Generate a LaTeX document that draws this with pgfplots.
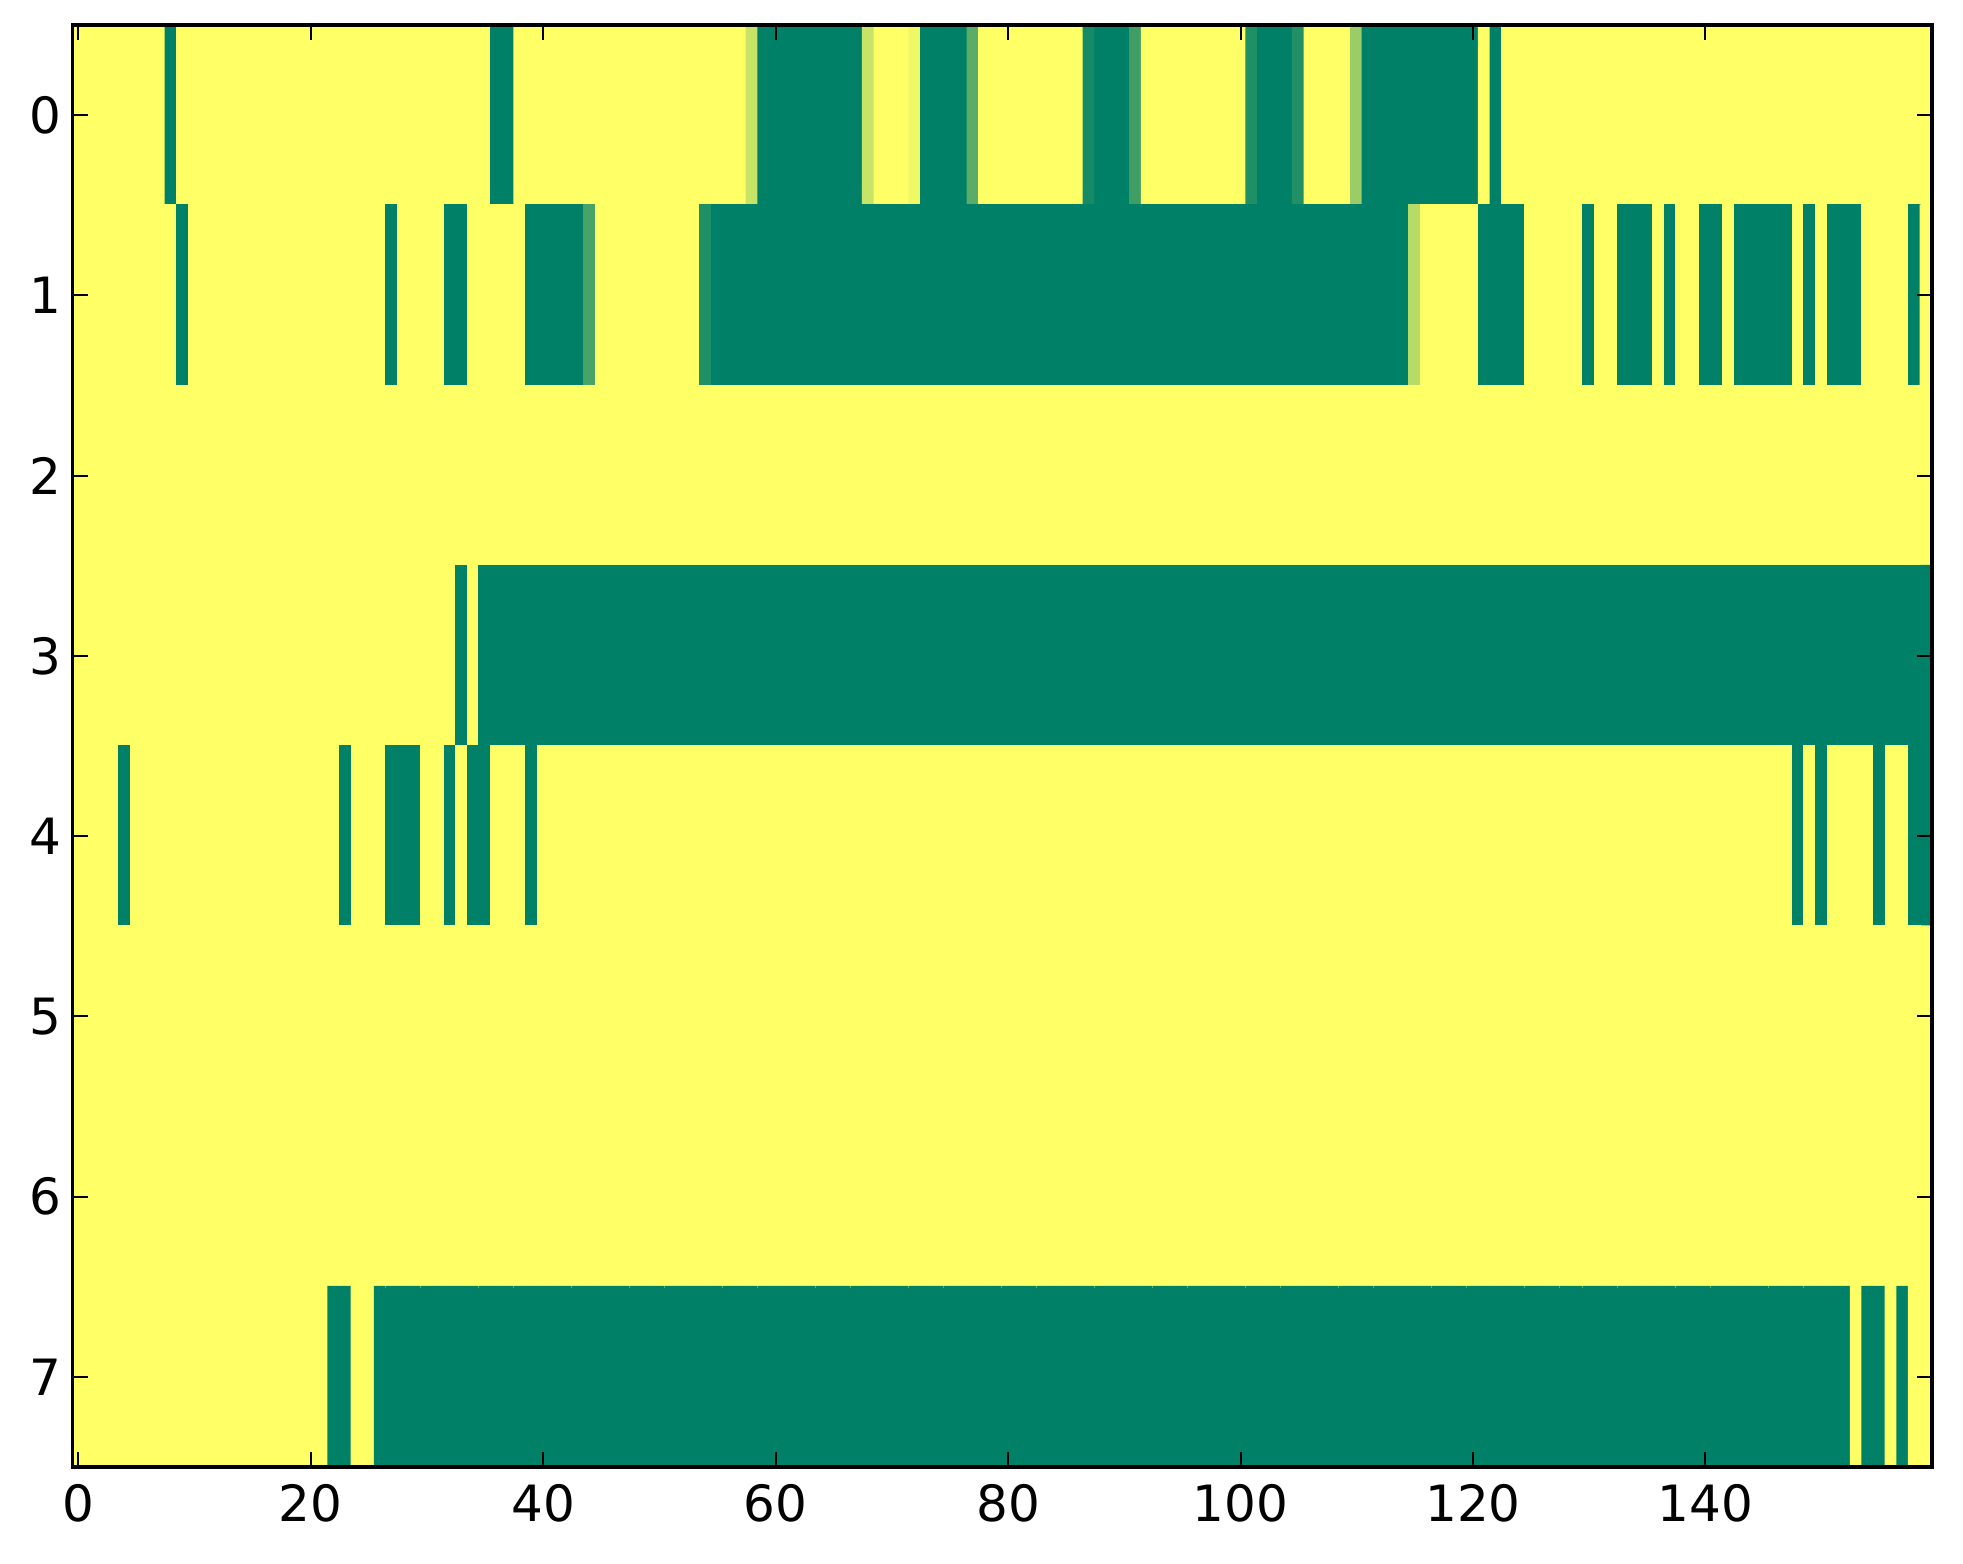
\documentclass[border=0pt]{standalone}
\usepackage{pgfplots}
\pgfplotsset{compat=1.18}
\usepackage{fontspec}
\setmainfont{DejaVu Sans}
\begin{document}
\begin{tikzpicture}
\begin{axis}[
  scale only axis,
  width=371.9pt, height=288.4pt,
  xmin=-0.5, xmax=159.5, ymin=-0.5, ymax=7.5,
  y dir=reverse,
  enlargelimits=false,
  axis on top,
  xtick={0,20,...,140}, ytick={0,1,...,7},
  tick align=inside, xtick pos=both, ytick pos=both,
  major tick length=3pt,
  tick style={black, line width=0.4pt},
  axis line style={black, line width=0.7pt},
  /pgf/number format/assume math mode=true,
  tick label style={font=\fontsize{10}{12}\selectfont},
  yticklabel style={xshift=1.2pt},
  colormap={summer}{rgb=(0,0.5,0.4) rgb=(1,1,0.4)},
  point meta min=0, point meta max=1,
]
\addplot[matrix plot*, mesh/cols=160, mesh/rows=8, point meta=explicit, draw=mapped color, line width=0.35pt]
table[row sep=\\, header=false, x expr={mod(\coordindex,160)}, y expr={floor(\coordindex/160)}, meta index=0] {
% row 0
1\\1\\1\\1\\1\\1\\1\\1\\0\\1\\ 1\\1\\1\\1\\1\\1\\1\\1\\1\\1\\
1\\1\\1\\1\\1\\1\\1\\1\\1\\1\\ 1\\1\\1\\1\\1\\1\\0\\0\\1\\1\\
1\\1\\1\\1\\1\\1\\1\\1\\1\\1\\ 1\\1\\1\\1\\1\\1\\1\\1\\0.78\\0\\
0\\0\\0\\0\\0\\0\\0\\0\\0.78\\1\\ 1\\1\\0.94\\0\\0\\0\\0\\0.35\\1\\1\\
1\\1\\1\\1\\1\\1\\1\\0.08\\0\\0\\ 0\\0.24\\1\\1\\1\\1\\1\\1\\1\\1\\
1\\0.12\\0\\0\\0\\0.13\\1\\1\\1\\1\\ 0.6\\0\\0\\0\\0\\0\\0\\0\\0\\0\\
0\\1\\0\\1\\1\\1\\1\\1\\1\\1\\ 1\\1\\1\\1\\1\\1\\1\\1\\1\\1\\
1\\1\\1\\1\\1\\1\\1\\1\\1\\1\\ 1\\1\\1\\1\\1\\1\\1\\1\\1\\1\\
% row 1
1\\1\\1\\1\\1\\1\\1\\1\\1\\0\\ 1\\1\\1\\1\\1\\1\\1\\1\\1\\1\\
1\\1\\1\\1\\1\\1\\1\\0\\1\\1\\ 1\\1\\0\\0\\1\\1\\1\\1\\1\\0\\
0\\0\\0\\0\\0.28\\1\\1\\1\\1\\1\\ 1\\1\\1\\1\\0.12\\0\\0\\0\\0\\0\\
0\\0\\0\\0\\0\\0\\0\\0\\0\\0\\ 0\\0\\0\\0\\0\\0\\0\\0\\0\\0\\
0\\0\\0\\0\\0\\0\\0\\0\\0\\0\\ 0\\0\\0\\0\\0\\0\\0\\0\\0\\0\\
0\\0\\0\\0\\0\\0\\0\\0\\0\\0\\ 0\\0\\0\\0\\0\\0.71\\1\\1\\1\\1\\
1\\0\\0\\0\\0\\1\\1\\1\\1\\1\\ 0\\1\\1\\0\\0\\0\\1\\0\\1\\1\\
0\\0\\1\\0\\0\\0\\0\\0\\1\\0\\ 1\\0\\0\\0\\1\\1\\1\\1\\0\\1\\
% row 2
1\\1\\1\\1\\1\\1\\1\\1\\1\\1\\ 1\\1\\1\\1\\1\\1\\1\\1\\1\\1\\
1\\1\\1\\1\\1\\1\\1\\1\\1\\1\\ 1\\1\\1\\1\\1\\1\\1\\1\\1\\1\\
1\\1\\1\\1\\1\\1\\1\\1\\1\\1\\ 1\\1\\1\\1\\1\\1\\1\\1\\1\\1\\
1\\1\\1\\1\\1\\1\\1\\1\\1\\1\\ 1\\1\\1\\1\\1\\1\\1\\1\\1\\1\\
1\\1\\1\\1\\1\\1\\1\\1\\1\\1\\ 1\\1\\1\\1\\1\\1\\1\\1\\1\\1\\
1\\1\\1\\1\\1\\1\\1\\1\\1\\1\\ 1\\1\\1\\1\\1\\1\\1\\1\\1\\1\\
1\\1\\1\\1\\1\\1\\1\\1\\1\\1\\ 1\\1\\1\\1\\1\\1\\1\\1\\1\\1\\
1\\1\\1\\1\\1\\1\\1\\1\\1\\1\\ 1\\1\\1\\1\\1\\1\\1\\1\\1\\1\\
% row 3
1\\1\\1\\1\\1\\1\\1\\1\\1\\1\\ 1\\1\\1\\1\\1\\1\\1\\1\\1\\1\\
1\\1\\1\\1\\1\\1\\1\\1\\1\\1\\ 1\\1\\1\\0\\1\\0\\0\\0\\0\\0\\
0\\0\\0\\0\\0\\0\\0\\0\\0\\0\\ 0\\0\\0\\0\\0\\0\\0\\0\\0\\0\\
0\\0\\0\\0\\0\\0\\0\\0\\0\\0\\ 0\\0\\0\\0\\0\\0\\0\\0\\0\\0\\
0\\0\\0\\0\\0\\0\\0\\0\\0\\0\\ 0\\0\\0\\0\\0\\0\\0\\0\\0\\0\\
0\\0\\0\\0\\0\\0\\0\\0\\0\\0\\ 0\\0\\0\\0\\0\\0\\0\\0\\0\\0\\
0\\0\\0\\0\\0\\0\\0\\0\\0\\0\\ 0\\0\\0\\0\\0\\0\\0\\0\\0\\0\\
0\\0\\0\\0\\0\\0\\0\\0\\0\\0\\ 0\\0\\0\\0\\0\\0\\0\\0\\0\\0\\
% row 4
1\\1\\1\\1\\0\\1\\1\\1\\1\\1\\ 1\\1\\1\\1\\1\\1\\1\\1\\1\\1\\
1\\1\\1\\0\\1\\1\\1\\0\\0\\0\\ 1\\1\\0\\1\\0\\0\\1\\1\\1\\0\\
1\\1\\1\\1\\1\\1\\1\\1\\1\\1\\ 1\\1\\1\\1\\1\\1\\1\\1\\1\\1\\
1\\1\\1\\1\\1\\1\\1\\1\\1\\1\\ 1\\1\\1\\1\\1\\1\\1\\1\\1\\1\\
1\\1\\1\\1\\1\\1\\1\\1\\1\\1\\ 1\\1\\1\\1\\1\\1\\1\\1\\1\\1\\
1\\1\\1\\1\\1\\1\\1\\1\\1\\1\\ 1\\1\\1\\1\\1\\1\\1\\1\\1\\1\\
1\\1\\1\\1\\1\\1\\1\\1\\1\\1\\ 1\\1\\1\\1\\1\\1\\1\\1\\1\\1\\
1\\1\\1\\1\\1\\1\\1\\1\\0\\1\\ 0\\1\\1\\1\\1\\0\\1\\1\\0\\0\\
% row 5
1\\1\\1\\1\\1\\1\\1\\1\\1\\1\\ 1\\1\\1\\1\\1\\1\\1\\1\\1\\1\\
1\\1\\1\\1\\1\\1\\1\\1\\1\\1\\ 1\\1\\1\\1\\1\\1\\1\\1\\1\\1\\
1\\1\\1\\1\\1\\1\\1\\1\\1\\1\\ 1\\1\\1\\1\\1\\1\\1\\1\\1\\1\\
1\\1\\1\\1\\1\\1\\1\\1\\1\\1\\ 1\\1\\1\\1\\1\\1\\1\\1\\1\\1\\
1\\1\\1\\1\\1\\1\\1\\1\\1\\1\\ 1\\1\\1\\1\\1\\1\\1\\1\\1\\1\\
1\\1\\1\\1\\1\\1\\1\\1\\1\\1\\ 1\\1\\1\\1\\1\\1\\1\\1\\1\\1\\
1\\1\\1\\1\\1\\1\\1\\1\\1\\1\\ 1\\1\\1\\1\\1\\1\\1\\1\\1\\1\\
1\\1\\1\\1\\1\\1\\1\\1\\1\\1\\ 1\\1\\1\\1\\1\\1\\1\\1\\1\\1\\
% row 6
1\\1\\1\\1\\1\\1\\1\\1\\1\\1\\ 1\\1\\1\\1\\1\\1\\1\\1\\1\\1\\
1\\1\\1\\1\\1\\1\\1\\1\\1\\1\\ 1\\1\\1\\1\\1\\1\\1\\1\\1\\1\\
1\\1\\1\\1\\1\\1\\1\\1\\1\\1\\ 1\\1\\1\\1\\1\\1\\1\\1\\1\\1\\
1\\1\\1\\1\\1\\1\\1\\1\\1\\1\\ 1\\1\\1\\1\\1\\1\\1\\1\\1\\1\\
1\\1\\1\\1\\1\\1\\1\\1\\1\\1\\ 1\\1\\1\\1\\1\\1\\1\\1\\1\\1\\
1\\1\\1\\1\\1\\1\\1\\1\\1\\1\\ 1\\1\\1\\1\\1\\1\\1\\1\\1\\1\\
1\\1\\1\\1\\1\\1\\1\\1\\1\\1\\ 1\\1\\1\\1\\1\\1\\1\\1\\1\\1\\
1\\1\\1\\1\\1\\1\\1\\1\\1\\1\\ 1\\1\\1\\1\\1\\1\\1\\1\\1\\1\\
% row 7
1\\1\\1\\1\\1\\1\\1\\1\\1\\1\\ 1\\1\\1\\1\\1\\1\\1\\1\\1\\1\\
1\\1\\0\\0\\1\\1\\0\\0\\0\\0\\ 0\\0\\0\\0\\0\\0\\0\\0\\0\\0\\
0\\0\\0\\0\\0\\0\\0\\0\\0\\0\\ 0\\0\\0\\0\\0\\0\\0\\0\\0\\0\\
0\\0\\0\\0\\0\\0\\0\\0\\0\\0\\ 0\\0\\0\\0\\0\\0\\0\\0\\0\\0\\
0\\0\\0\\0\\0\\0\\0\\0\\0\\0\\ 0\\0\\0\\0\\0\\0\\0\\0\\0\\0\\
0\\0\\0\\0\\0\\0\\0\\0\\0\\0\\ 0\\0\\0\\0\\0\\0\\0\\0\\0\\0\\
0\\0\\0\\0\\0\\0\\0\\0\\0\\0\\ 0\\0\\0\\0\\0\\0\\0\\0\\0\\0\\
0\\0\\0\\0\\0\\0\\0\\0\\0\\0\\ 0\\0\\0\\1\\0\\0\\1\\0\\1\\1\\
};
\end{axis}
\path ([shift={(-14.5pt,-19.4pt)}]current axis.south west) rectangle ([shift={(6.2pt,5pt)}]current axis.north east);
\end{tikzpicture}
\end{document}
